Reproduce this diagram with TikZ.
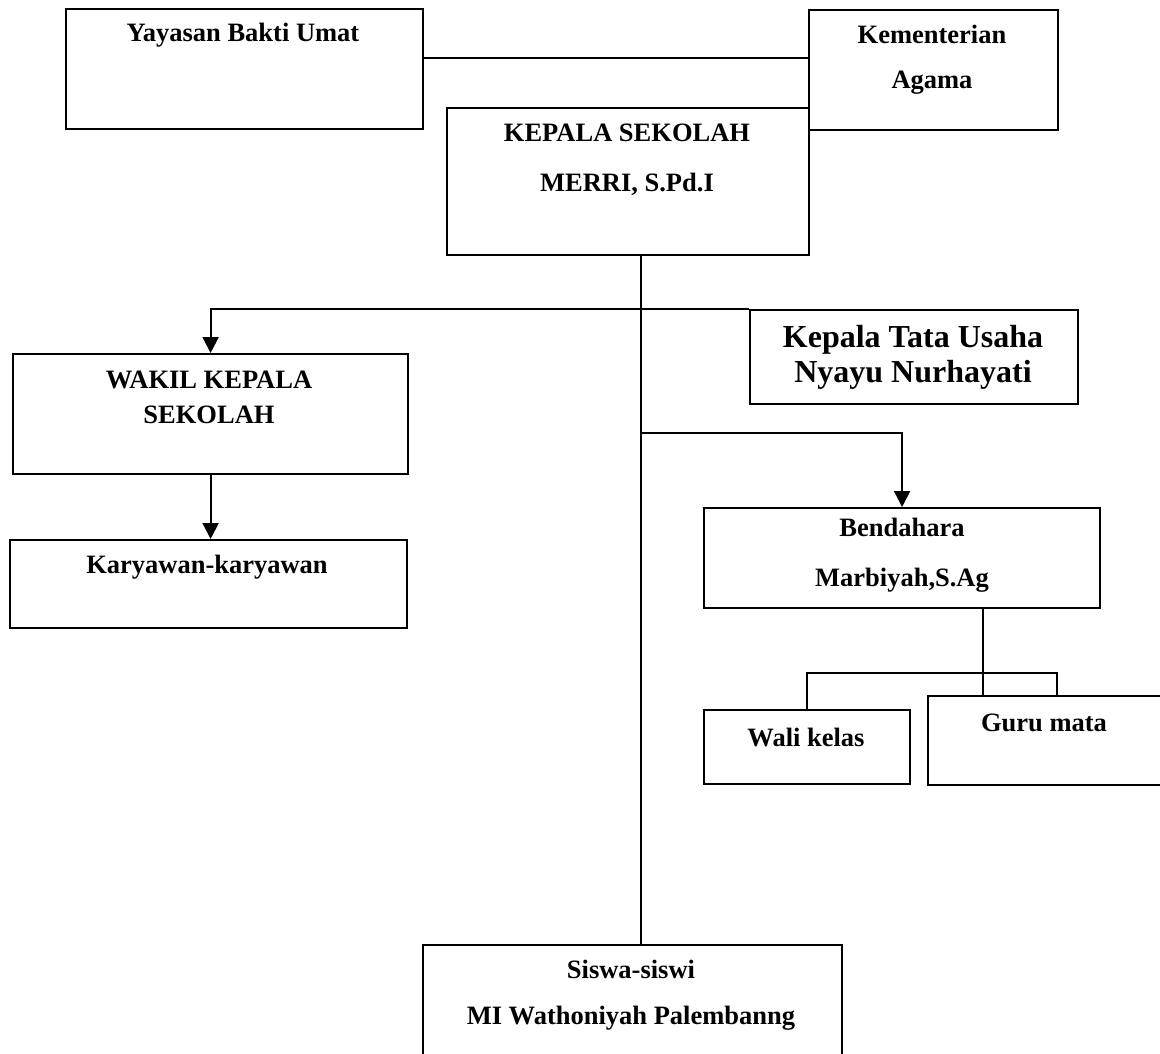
\documentclass[tikz,border=0pt]{standalone}
\usepackage{fontspec}
\setmainfont{Liberation Serif}
\usetikzlibrary{arrows.meta}

\begin{document}
\begin{tikzpicture}[x=1pt, y=-1pt,
  orgbox/.style={draw, line width=2.2pt, anchor=north west, inner sep=0pt},
  txt/.style={font=\bfseries\fontsize{26.5}{30}\selectfont, align=center, inner sep=0pt},
  link/.style={line width=2pt},
  arrow/.style={link, -{Triangle[width=16pt,length=16pt]}}]
\useasboundingbox (0,0) rectangle (1160,1053);

% top row
\node[orgbox, minimum width=357pt, minimum height=120pt] (yayasan) at (65,8) {};
\node[txt] (yayasan-t) at (243,35) {Yayasan Bakti Umat};
\node[orgbox, minimum width=249pt, minimum height=120pt] (kemenag) at (808,9) {};
\node[txt] (kemenag-t) at (932,60) {Kementerian\\[15pt]Agama};
\node[orgbox, fill=white, minimum width=362pt, minimum height=147pt] (kepsek) at (446,107) {};
\node[txt] (kepsek-t) at (627,160) {KEPALA SEKOLAH\\[20pt]MERRI, S.Pd.I};

% middle
\node[orgbox, minimum width=328pt, minimum height=94pt] (tu) at (749,309) {};
\node[txt, font=\bfseries\fontsize{32}{35}\selectfont] (tu-t) at (913,357) {Kepala Tata Usaha\\Nyayu Nurhayati};
\node[orgbox, minimum width=395pt, minimum height=120pt] (wakil) at (12,353) {};
\node[txt] (wakil-t) at (209,397) {WAKIL KEPALA\\[5pt]SEKOLAH};
\node[orgbox, minimum width=397pt, minimum height=88pt] (karyawan) at (9,539) {};
\node[txt] (karyawan-t) at (207,567) {Karyawan-karyawan};
\node[orgbox, minimum width=396pt, minimum height=100pt] (bendahara) at (703,507) {};
\node[txt] (bendahara-t) at (902,555) {Bendahara\\[20pt]Marbiyah,S.Ag};

% bottom
\node[orgbox, minimum width=206pt, minimum height=74pt] (wali) at (703,709) {};
\node[txt] (wali-t) at (806,737) {Wali kelas};
\node[orgbox, minimum width=243pt, minimum height=89pt] (guru) at (927,695) {};
\node[txt] (guru-t) at (1044,723) {Guru mata};
\node[orgbox, minimum width=419pt, minimum height=130pt] (siswa) at (422,944) {};
\node[txt] (siswa-t) at (631,995) {Siswa-siswi\\[16pt]MI Wathoniyah Palembanng};

\coordinate (fork) at (640,433);
\coordinate (tee) at (1057,673);

% connectors
\draw[link] ([yshift=11pt]yayasan.east) -- ([yshift=12pt]kemenag.west);
\draw[link] ([xshift=13pt]kepsek.south) -- ([xshift=13pt]kepsek.south |- siswa.north);
\draw[arrow] (tu.north west) -| (wakil.north);
\draw[arrow] (wakil.south) -- (wakil.south |- karyawan.north);
\draw[arrow] (fork) -| (bendahara.north);
\draw[link] ([xshift=81pt]bendahara.south) -- ([xshift=81pt]bendahara.south |- guru.north);
\draw[link] (wali.north) |- (tee) -- (tee |- guru.north);
\end{tikzpicture}
\end{document}
